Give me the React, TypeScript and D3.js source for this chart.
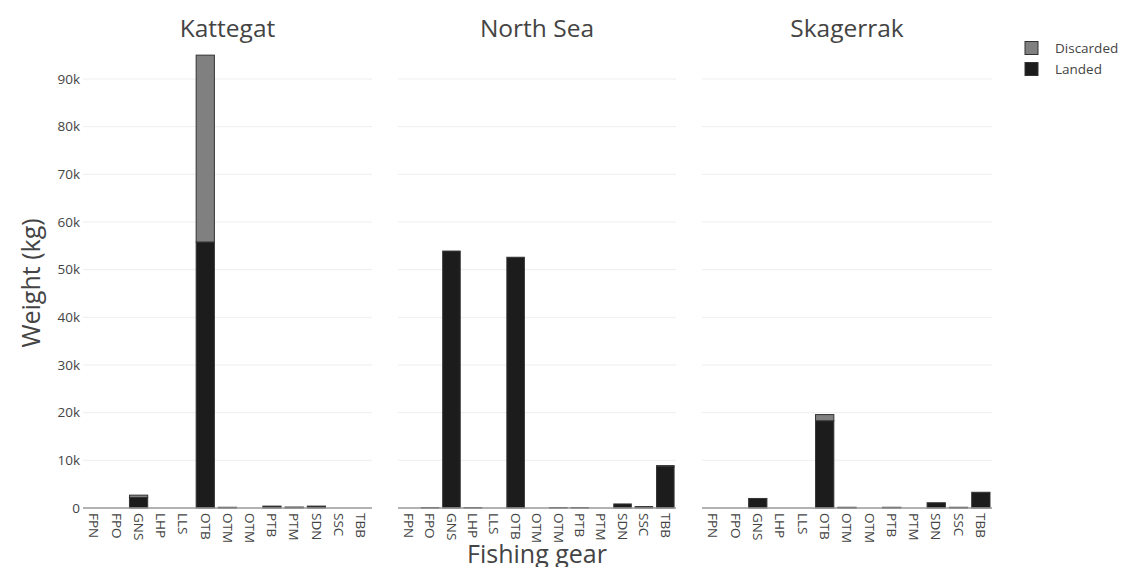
import React from "react";
import * as d3 from "d3";

const gears = ["FPN", "FPO", "GNS", "LHP", "LLS", "OTB", "OTM", "OTM", "PTB", "PTM", "SDN", "SSC", "TBB"];
const regions = ["Kattegat", "North Sea", "Skagerrak"];
const landedKattegat = [0, 0, 2200, 0, 0, 55800, 150, 0, 400, 200, 400, 0, 0];
const discardedKattegat = [0, 0, 500, 0, 0, 39200, 0, 0, 0, 0, 0, 0, 0];
const landedNorthSea = [0, 100, 53900, 100, 0, 52600, 0, 100, 100, 0, 850, 300, 8700];
const discardedNorthSea = [0, 0, 0, 0, 0, 0, 0, 0, 0, 0, 0, 0, 200];
const landedSkagerrak = [0, 0, 2000, 0, 0, 18300, 150, 0, 150, 0, 1100, 150, 3300];
const discardedSkagerrak = [0, 0, 0, 0, 0, 1300, 0, 0, 0, 0, 0, 0, 0];
const yTicks = [0, 10000, 20000, 30000, 40000, 50000, 60000, 70000, 80000, 90000];
const legendItems = ["Discarded", "Landed"];

const landedSeries = [landedKattegat, landedNorthSea, landedSkagerrak];
const discardedSeries = [discardedKattegat, discardedNorthSea, discardedSkagerrak];

const panelDomains: [number, number][] = [[83, 372], [398, 676], [702, 992]];
const colors: Record<string, string> = { Landed: "#1c1c1c", Discarded: "#808080" };
const FONT = "'Open Sans', 'Noto Sans', sans-serif";

export default function App() {
  const W = 1121, H = 567;
  const y = d3.scaleLinear().domain([0, 100000]).range([508, 31.3]);
  const fmt = (v: number) => (v === 0 ? "0" : `${v / 1000}k`);

  return (
    <svg width={W} height={H} style={{ position: "absolute", left: 0, top: 0, background: "#fff" }} fontFamily={FONT}>
      {regions.map((reg, pi) => {
        const x = d3.scaleBand<number>()
          .domain(gears.map((_, i) => i))
          .range(panelDomains[pi])
          .paddingInner(0.18)
          .paddingOuter(0.09);
        const [x0, x1] = panelDomains[pi];
        const landed = landedSeries[pi];
        const disc = discardedSeries[pi];
        return (
          <g key={reg}>
            {yTicks.filter((t) => t > 0).map((t) => (
              <line key={t} x1={x0} x2={x1} y1={y(t)} y2={y(t)} stroke="#eeeeee" strokeWidth={1} />
            ))}
            {gears.map((g, i) => {
              const bx = x(i)!;
              const bw = x.bandwidth();
              const l = landed[i];
              const d = disc[i];
              return (
                <g key={i}>
                  {l > 0 && (
                    <rect x={bx} y={y(l)} width={bw} height={y(0) - y(l)} fill={colors.Landed} stroke="#333" strokeWidth={1} />
                  )}
                  {d > 0 && (
                    <rect x={bx} y={y(l + d)} width={bw} height={y(l) - y(l + d)} fill={colors.Discarded} stroke="#333" strokeWidth={1} />
                  )}
                </g>
              );
            })}
            <line x1={x0} x2={x1} y1={y(0)} y2={y(0)} stroke="#999" strokeWidth={1.5} />
            {gears.map((g, i) => (
              <text
                key={i}
                transform={`translate(${x(i)! + x.bandwidth() / 2},${513}) rotate(90)`}
                fontSize={13.5}
                fill="#444"
                textAnchor="start"
                dy="0.35em"
              >
                {g}
              </text>
            ))}
            <text x={(x0 + x1) / 2} y={37} textAnchor="middle" fontSize={24.5} fill="#444">{reg}</text>
          </g>
        );
      })}
      {yTicks.map((t) => (
        <text key={t} x={80} y={y(t)} dy="0.35em" textAnchor="end" fontSize={13.5} fill="#444">{fmt(t)}</text>
      ))}
      <text transform={`translate(40,${283}) rotate(-90)`} textAnchor="middle" fontSize={25} fill="#444">Weight (kg)</text>
      <text x={537} y={563} textAnchor="middle" fontSize={25} fill="#444">Fishing gear</text>
      {legendItems.map((it, i) => (
        <g key={it} transform={`translate(1025,${48 + i * 21})`}>
          <rect x={0} y={-6.5} width={13} height={13} fill={colors[it]} stroke="#333" strokeWidth={1} />
          <text x={30} y={0} dy="0.35em" fontSize={13.5} fill="#444">{it}</text>
        </g>
      ))}
    </svg>
  );
}
